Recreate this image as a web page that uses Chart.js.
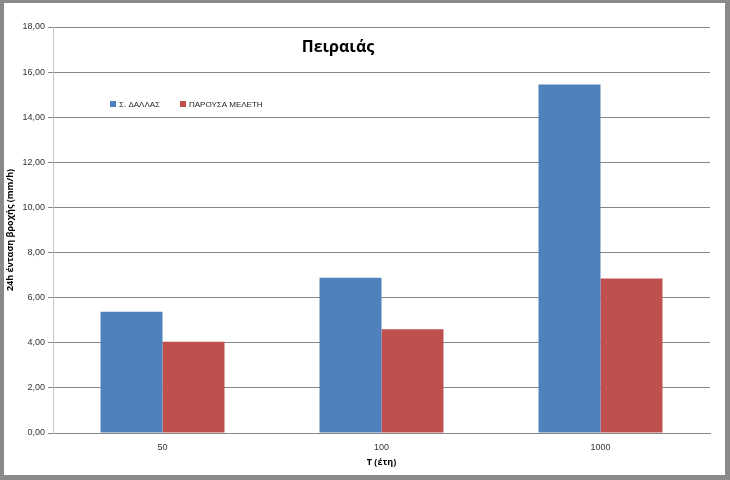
<!DOCTYPE html>
<html>
<head>
<meta charset="utf-8">
<script src="https://cdn.jsdelivr.net/npm/chart.js@4.4.0/dist/chart.umd.min.js"></script>
<style>
    body { margin: 0; background: #fff; }
    #frame { position: relative; width: 730px; height: 480px; background: #8a8a8a; }
    #box { position: absolute; left: 4px; top: 3px; width: 721px; height: 472px; background: #fff; }
</style>
</head>
<body>
<div id="frame">
    <div id="box"><canvas id="GraphBar" width="721" height="472"></canvas></div>
</div>
<script>
// data
const periods = ['50', '100', '1000'];
const dallasValues = [5.38, 6.88, 15.45];
const studyValues = [4.05, 4.60, 6.85];
const seriesNames = ['Σ. ΔΑΛΛΑΣ', 'ΠΑΡΟΥΣΑ ΜΕΛΕΤΗ'];
const chartTitle = 'Πειραιάς';
const yAxisTitle = '24h ένταση βροχής (mm/h)';
const xAxisTitle = 'T (έτη)';
const yMax = 18;
const yStep = 2;

const blue = '#4f81bd';
const red = '#c0504d';

// title and legend sit inside the plot, so draw them by hand
const insideText = {
    id: 'insideText',
    afterDraw(chart) {
        const ctx = chart.ctx;
        ctx.save();
        ctx.fillStyle = '#000';
        ctx.font = 'bold 16px "Open Sans", "Liberation Sans", sans-serif';
        ctx.textAlign = 'center';
        ctx.textBaseline = 'middle';
        ctx.fillText(chartTitle, 334, 44);

        ctx.font = '8px "Liberation Sans", sans-serif';
        ctx.textAlign = 'left';
        const starts = [106, 176];
        chart.data.datasets.forEach((ds, i) => {
            ctx.fillStyle = ds.backgroundColor;
            ctx.fillRect(starts[i], 98, 6, 6);
            ctx.fillStyle = '#222';
            ctx.fillText(ds.label, starts[i] + 9, 101.5);
        });
        ctx.restore();
    }
};

new Chart(document.getElementById('GraphBar'), {
    type: 'bar',
    data: {
        labels: periods,
        datasets: [{
            label: seriesNames[0],
            data: dallasValues,
            backgroundColor: blue,
            categoryPercentage: 0.566,
            barPercentage: 1
        }, {
            label: seriesNames[1],
            data: studyValues,
            backgroundColor: red,
            categoryPercentage: 0.566,
            barPercentage: 1
        }]
    },
    options: {
        responsive: false,
        animation: false,
        layout: { padding: { top: 24, right: 15, left: 0, bottom: 0 } },
        plugins: {
            legend: { display: false },
            title: { display: false },
            tooltip: { enabled: false }
        },
        scales: {
            x: {
                afterFit: (scale) => { scale.height = 42; },
                grid: { display: false, drawTicks: false },
                border: { display: true, color: '#868686' },
                ticks: {
                    padding: 9,
                    color: '#333',
                    font: { family: '"Liberation Sans", sans-serif', size: 9 }
                },
                title: {
                    display: true,
                    text: xAxisTitle,
                    color: '#000',
                    padding: { top: 0, bottom: 7 },
                    font: { family: '"Open Sans", "Liberation Sans", sans-serif', size: 9, weight: 'bold' }
                }
            },
            y: {
                min: 0,
                max: yMax,
                afterFit: (scale) => { scale.width = 49; },
                grid: { color: '#868686', tickLength: 5 },
                border: { display: true, color: '#c4c4c4' },
                ticks: {
                    stepSize: yStep,
                    padding: 3,
                    color: '#333',
                    font: { family: '"Liberation Sans", sans-serif', size: 9 },
                    callback: (v) => v.toFixed(2).replace('.', ',')
                },
                title: {
                    display: true,
                    text: yAxisTitle,
                    color: '#000',
                    padding: { top: 1, bottom: 0 },
                    font: { family: '"Open Sans", "Liberation Sans", sans-serif', size: 9, weight: 'bold' }
                }
            }
        }
    },
    plugins: [insideText]
});
</script>
</body>
</html>
